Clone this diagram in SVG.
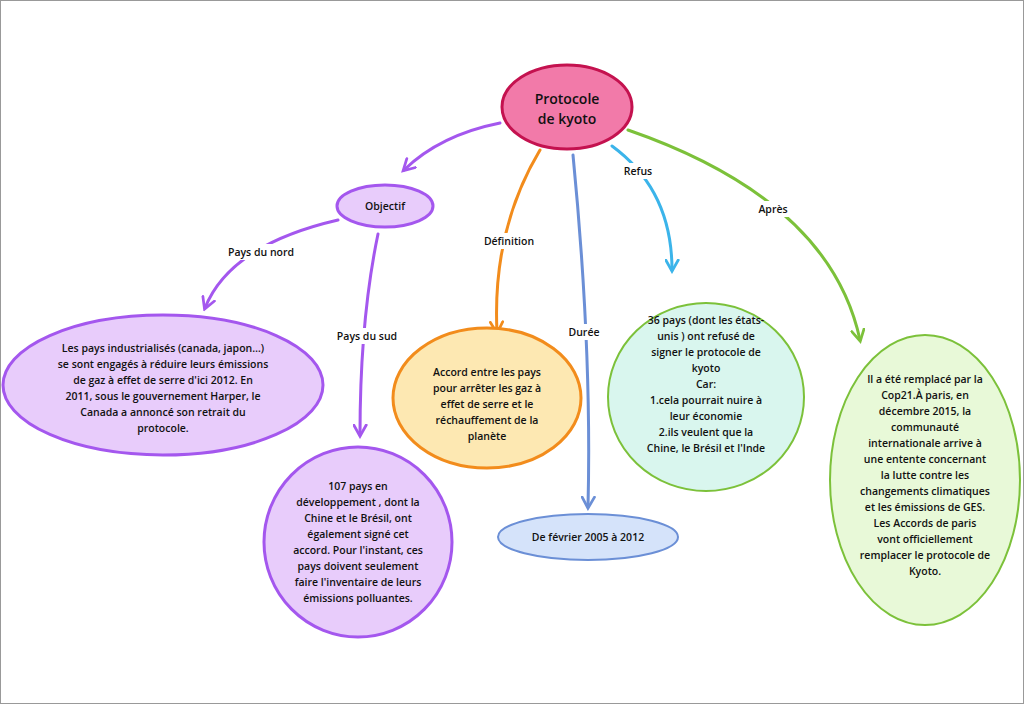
<svg xmlns="http://www.w3.org/2000/svg" width="1024" height="704" viewBox="0 0 1024 704">
<defs>
<style>
text{font-family:"Open Sans","DejaVu Sans",sans-serif;font-weight:600;font-size:10.5px;fill:#111;text-anchor:middle}
.lbl{font-size:10.5px}
.c{fill:none;stroke-width:3;stroke-linecap:round}
.pur{fill:#e8ccfb;stroke:#a457ee;stroke-width:3}
</style>
<marker id="mp" viewBox="0 0 12 12" refX="9" refY="6" markerWidth="5" markerHeight="5" orient="auto"><path d="M1,1 L10,6 L1,11" fill="none" stroke="#a457ee" stroke-width="2.2" stroke-linecap="round"/></marker>
<marker id="mo" viewBox="0 0 12 12" refX="9" refY="6" markerWidth="5" markerHeight="5" orient="auto"><path d="M1,1 L10,6 L1,11" fill="none" stroke="#f28c1c" stroke-width="2.2" stroke-linecap="round"/></marker>
<marker id="mb" viewBox="0 0 12 12" refX="9" refY="6" markerWidth="5" markerHeight="5" orient="auto"><path d="M1,1 L10,6 L1,11" fill="none" stroke="#6b8fd6" stroke-width="2.2" stroke-linecap="round"/></marker>
<marker id="mc" viewBox="0 0 12 12" refX="9" refY="6" markerWidth="5" markerHeight="5" orient="auto"><path d="M1,1 L10,6 L1,11" fill="none" stroke="#3bb4ea" stroke-width="2.2" stroke-linecap="round"/></marker>
<marker id="mg" viewBox="0 0 12 12" refX="9" refY="6" markerWidth="5" markerHeight="5" orient="auto"><path d="M1,1 L10,6 L1,11" fill="none" stroke="#7cc13a" stroke-width="2.2" stroke-linecap="round"/></marker>
</defs>
<rect x="0.5" y="0.5" width="1023" height="703" fill="#fff" stroke="#999"/>
<g id="connectors">
<path class="c" d="M500,123 Q440,135 404,170" stroke="#a457ee" marker-end="url(#mp)"/>
<path class="c" d="M338,220 Q230,245 205,308" stroke="#a457ee" marker-end="url(#mp)"/>
<path class="c" d="M378,234 Q360,320 360,435" stroke="#a457ee" marker-end="url(#mp)"/>
<path class="c" d="M540,150 Q492,230 497,332" stroke="#f28c1c" marker-end="url(#mo)"/>
<path class="c" d="M573,155 Q592,350 588,507" stroke="#6b8fd6" stroke-width="2" marker-end="url(#mb)"/>
<path class="c" d="M612,146 Q672,190 672,270" stroke="#3bb4ea" marker-end="url(#mc)"/>
<path class="c" d="M628,130 Q830,200 860,340" stroke="#7cc13a" marker-end="url(#mg)"/>
<g class="lbl">
<rect x="222" y="244" width="78" height="16" fill="#fff"/><text x="261" y="256">Pays du nord</text>
<rect x="332" y="328" width="70" height="16" fill="#fff"/><text x="367" y="340">Pays du sud</text>
<rect x="480" y="233" width="58" height="16" fill="#fff"/><text x="509" y="245">Définition</text>
<rect x="566" y="324" width="36" height="16" fill="#fff"/><text x="584" y="336">Durée</text>
<rect x="620" y="163" width="36" height="16" fill="#fff"/><text x="638" y="175">Refus</text>
<rect x="755" y="201" width="36" height="16" fill="#fff"/><text x="773" y="213">Après</text>
</g>
</g>
<g id="root"><ellipse cx="567" cy="107" rx="65" ry="42" fill="#f27aa9" stroke="#c4124f" stroke-width="3"/>
<text x="567" y="104" style="font-size:14px">Protocole</text><text x="567" y="124" style="font-size:14px">de kyoto</text></g>
<g id="objectif"><ellipse cx="385" cy="206" rx="48" ry="21" class="pur"/><text x="385" y="210">Objectif</text></g>
<g id="nord"><ellipse cx="163" cy="385" rx="160" ry="70" class="pur"/>
<text x="163" y="352">Les pays industrialisés (canada, japon…)</text>
<text x="163" y="368">se sont engagés à réduire leurs émissions</text>
<text x="163" y="384">de gaz à effet de serre d'ici 2012. En</text>
<text x="163" y="400">2011, sous le gouvernement Harper, le</text>
<text x="163" y="416">Canada a annoncé son retrait du</text>
<text x="163" y="432">protocole.</text></g>
<g id="sud"><ellipse cx="358" cy="542" rx="94" ry="95" class="pur"/>
<text x="358" y="490">107 pays en</text>
<text x="358" y="506">développement , dont la</text>
<text x="358" y="522">Chine et le Brésil, ont</text>
<text x="358" y="538">également signé cet</text>
<text x="358" y="554">accord. Pour l'instant, ces</text>
<text x="358" y="570">pays doivent seulement</text>
<text x="358" y="586">faire l'inventaire de leurs</text>
<text x="358" y="602">émissions polluantes.</text></g>
<g id="accord"><ellipse cx="487" cy="398" rx="94" ry="70" fill="#fde8b2" stroke="#f28c1c" stroke-width="3"/>
<text x="487" y="376">Accord entre les pays</text>
<text x="487" y="392">pour arrêter les gaz à</text>
<text x="487" y="408">effet de serre et le</text>
<text x="487" y="424">réchauffement de la</text>
<text x="487" y="440">planète</text></g>
<g id="duree"><ellipse cx="588" cy="537" rx="90" ry="23" fill="#d5e3fa" stroke="#6b8fd6" stroke-width="2"/>
<text x="588" y="541">De février 2005 à 2012</text></g>
<g id="refus"><ellipse cx="706" cy="397" rx="98" ry="94" fill="#d9f6ee" stroke="#7cc13a" stroke-width="2"/>
<text x="706" y="324">36 pays (dont les états-</text>
<text x="706" y="340">unis ) ont refusé de</text>
<text x="706" y="356">signer le protocole de</text>
<text x="706" y="372">kyoto</text>
<text x="706" y="388">Car:</text>
<text x="706" y="404">1.cela pourrait nuire à</text>
<text x="706" y="420">leur économie</text>
<text x="706" y="436">2.ils veulent que la</text>
<text x="706" y="452">Chine, le Brésil et l'Inde</text></g>
<g id="apres"><ellipse cx="925" cy="480" rx="95" ry="145" fill="#e8f9d8" stroke="#7cc13a" stroke-width="2"/>
<text x="925" y="383">Il a été remplacé par la</text>
<text x="925" y="399">Cop21.À paris, en</text>
<text x="925" y="415">décembre 2015, la</text>
<text x="925" y="431">communauté</text>
<text x="925" y="447">internationale arrive à</text>
<text x="925" y="463">une entente concernant</text>
<text x="925" y="479">la lutte contre les</text>
<text x="925" y="495">changements climatiques</text>
<text x="925" y="511">et les émissions de GES.</text>
<text x="925" y="527">Les Accords de paris</text>
<text x="925" y="543">vont officiellement</text>
<text x="925" y="559">remplacer le protocole de</text>
<text x="925" y="575">Kyoto.</text></g>
</svg>
